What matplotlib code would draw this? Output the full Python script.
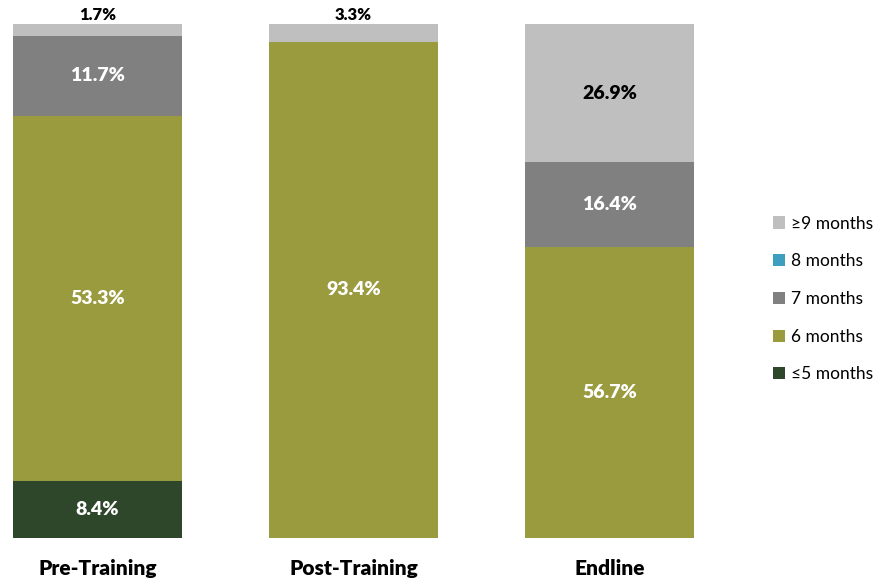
import numpy as np
import matplotlib
matplotlib.use("Agg")
import matplotlib.pyplot as plt

plt.rcParams["font.family"] = ["Lato", "DejaVu Sans"]

# data (percent per group)
groups = ["Pre-Training", "Post-Training", "Endline"]
series = ["\u22645 months", "6 months", "7 months", "8 months", "\u22659 months"]
le5 = [8.4, 0.0, 0.0]
m6 = [53.3, 93.4, 56.7]
m7 = [11.7, 0.0, 16.4]
m8 = [0.0, 0.0, 0.0]
ge9 = [1.7, 3.3, 26.9]

colors = ["#2E472B", "#9A9A3E", "#808080", "#3D9EC0", "#BFBFBF"]
label_colors = ["white", "white", "white", "white", "black"]

values = np.array([le5, m6, m7, m8, ge9])
totals = values.sum(axis=0)
shares = values / totals * 100  # each bar drawn full height

fig = plt.figure(figsize=(8.94, 5.84), dpi=100)
ax = fig.add_axes([0, 46 / 584, 720 / 894, 514 / 584])

x = np.arange(len(groups))
width = 0.66
bottom = np.zeros(len(groups))
bars = []
for i, name in enumerate(series):
    b = ax.bar(x, shares[i], width, bottom=bottom, color=colors[i], label=name)
    bars.append(b)
    for j in range(len(groups)):
        v = values[i, j]
        if v <= 0:
            continue
        h = shares[i, j]
        if h < 5:
            # small top slice: label sits above the bar
            ax.text(x[j], bottom[j] + h + 0.2, f"{v:.1f}%", ha="center", va="bottom",
                    fontsize=12, fontweight="heavy", color="black")
        else:
            ax.text(x[j], bottom[j] + h / 2, f"{v:.1f}%", ha="center", va="center",
                    fontsize=14, fontweight="heavy", color=label_colors[i])
    bottom += shares[i]

ax.set_xlim(-0.381, 2.431)
ax.set_ylim(0, 100)
ax.axis("off")

for j, g in enumerate(groups):
    ax.text(x[j], -4.0, g, ha="center", va="top", fontsize=15, fontweight="heavy")

handles = bars[::-1]
labels = series[::-1]
fig.legend(handles, labels, loc="center left", bbox_to_anchor=(757 / 894, 1 - 299 / 584),
           frameon=False, fontsize=12.5, handlelength=0.7, handleheight=0.7,
           handletextpad=0.35, labelspacing=1.25)

fig.savefig("out.png", dpi=100)
